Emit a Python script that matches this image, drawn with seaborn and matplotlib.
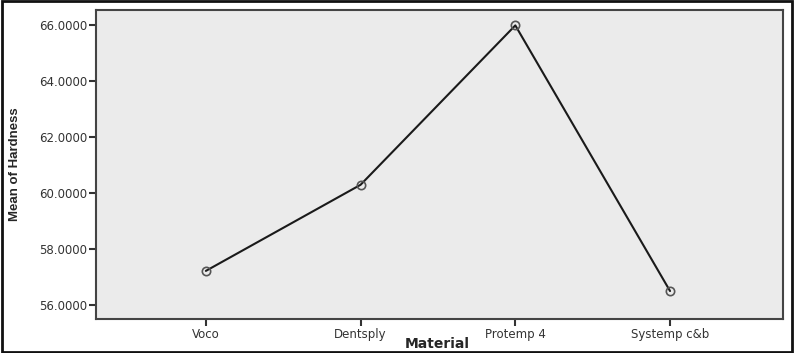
import matplotlib
matplotlib.use("Agg")
import matplotlib.pyplot as plt
import seaborn as sns
import pandas as pd
from matplotlib.patches import Rectangle

materials = ["Voco", "Dentsply", "Protemp 4", "Systemp c&b"]
mean_hardness = [57.22, 60.30, 66.00, 56.50]
y_ticks = [56, 58, 60, 62, 64, 66]

df = pd.DataFrame({"Material": materials, "Mean of Hardness": mean_hardness})

sns.set_theme(style="white")
plt.rcParams['font.family'] = ['DejaVu Sans']

fig = plt.figure(figsize=(7.94, 3.53), dpi=100)
ax = fig.add_axes([96/794, 34/353, 687/794, 309/353])
ax.set_facecolor("#ebebeb")

sns.lineplot(data=df, x="Material", y="Mean of Hardness", ax=ax, color="#1a1a1a",
             linewidth=1.5, marker="o", markersize=6, markerfacecolor="none",
             markeredgecolor="#555555", markeredgewidth=1.2, sort=False)

ax.set_xlim(-0.71, 3.73)
ax.set_ylim(55.5, 66.55)
ax.set_yticks(y_ticks)
ax.set_yticklabels([f"{v:.4f}" for v in y_ticks], fontsize=8.5, color="#333333")
ax.set_xticks(range(len(materials)))
ax.set_xticklabels(materials, fontsize=8.5, color="#333333")
ax.tick_params(axis="both", direction="out", length=5, width=1.5, color="#333333",
               left=True, bottom=True, pad=1.5)

for s in ax.spines.values():
    s.set_color("#444444")
    s.set_linewidth(1.5)

ax.set_ylabel("Mean of Hardness", fontsize=9.5, fontweight="bold",
              family=['Liberation Sans Narrow', 'Liberation Sans', 'DejaVu Sans'])
ax.yaxis.set_label_coords(-(96 - 21) / 687, 0.5)
ax.set_xlabel("Material", fontsize=10, fontweight="bold")
ax.xaxis.set_label_coords(0.497, -(344 - 319) / 309)
ax.xaxis.label.set_va("center")

fig.patches.append(Rectangle((0.002, 0.003), 0.996, 0.994, transform=fig.transFigure,
                             fill=False, edgecolor="#111111", linewidth=2))

fig.savefig("out.png", dpi=100)
